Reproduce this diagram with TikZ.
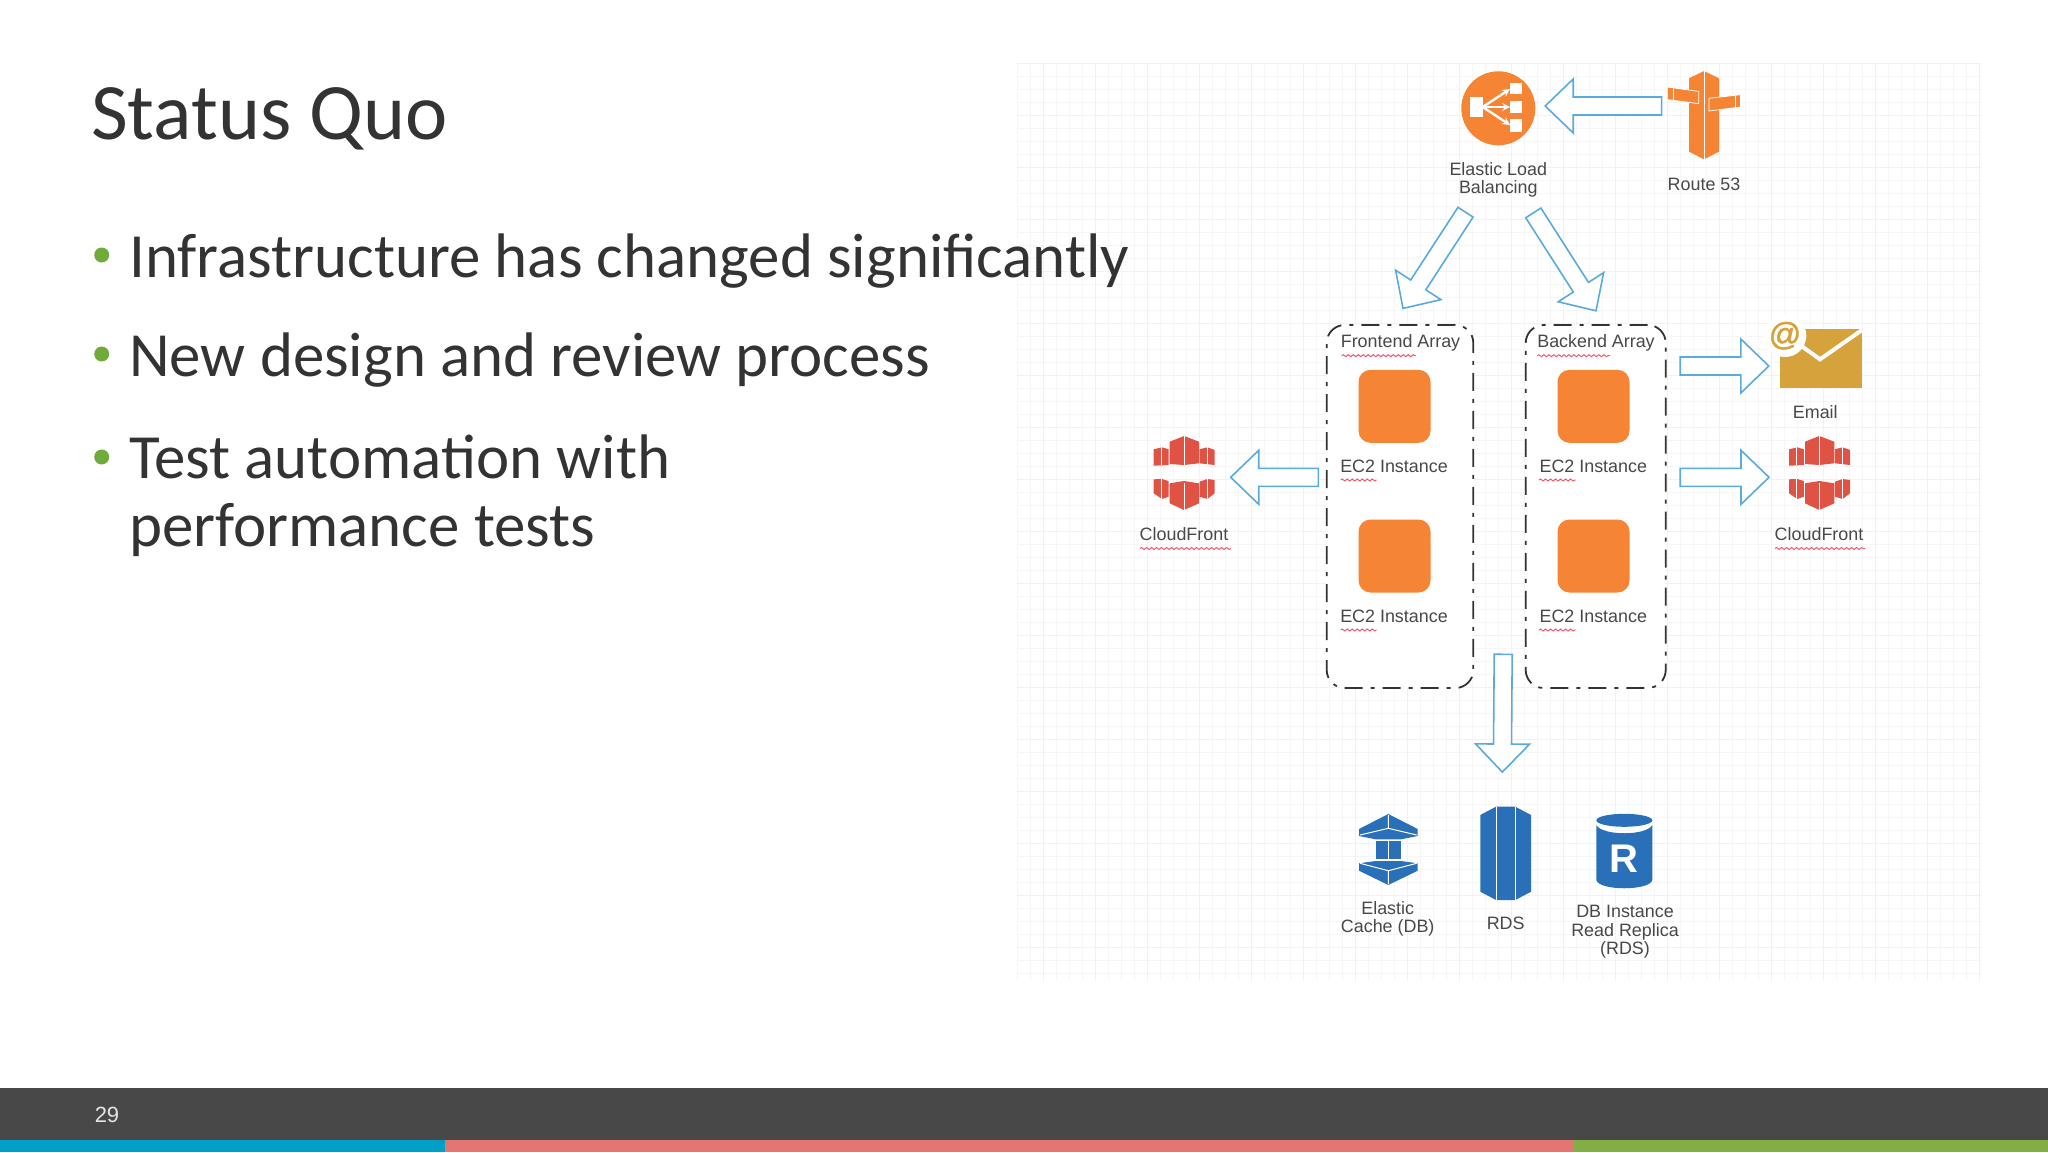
\documentclass[tikz,border=0pt]{standalone}
\usepackage{fontspec}
\setmainfont{Carlito}
\newfontfamily\labelfont{Liberation Sans}
\newfontfamily\atfont[FakeBold=1.5]{Liberation Sans}
\usepackage{xcolor}
\usepackage{tikz}
\usetikzlibrary{arrows,shapes,calc,decorations.pathmorphing}
\definecolor{slidetext}{RGB}{51,51,51}
\definecolor{slidegreen}{RGB}{112,170,58}
\definecolor{footdark}{RGB}{72,72,72}
\definecolor{footblue}{RGB}{0,160,198}
\definecolor{footred}{RGB}{228,118,114}
\definecolor{footgreen}{RGB}{130,175,67}
\definecolor{gridminor}{RGB}{246,246,247}
\definecolor{gridmajor}{RGB}{241,241,242}
\definecolor{labelgray}{RGB}{72,72,72}
\definecolor{awsorange}{RGB}{245,133,52}
\definecolor{awsred}{RGB}{224,82,67}
\definecolor{awsblue}{RGB}{41,112,184}
\definecolor{awsgold}{RGB}{214,162,60}
\definecolor{arrowblue}{RGB}{90,170,220}
\definecolor{squigred}{RGB}{240,90,110}
\tikzstyle{titletext} = [anchor=base west, inner sep=0pt, text=slidetext, font=\fontsize{80}{86}\selectfont]
\tikzstyle{bodytext} = [anchor=north west, inner sep=0pt, align=left, text=slidetext, font=\fontsize{62.9}{68}\selectfont]
\tikzstyle{bulletdot} = [circle, fill=slidegreen, minimum size=15pt, inner sep=0pt]
\tikzstyle{iconlabel} = [inner sep=0pt, align=center, text=labelgray, font=\labelfont\fontsize{17.9}{18.5}\selectfont]
\tikzstyle{arraybox} = [rectangle, rounded corners=18pt, minimum height=363pt, fill=white, draw=slidetext, line width=1.8pt, dash pattern=on 18pt off 8pt on 4pt off 8pt]
\tikzstyle{ecbox} = [rectangle, rounded corners=12pt, minimum width=72pt, minimum height=73pt, fill=awsorange]
\tikzstyle{iconbox} = [rectangle, inner sep=0pt]
\tikzstyle{squiggle} = [draw=squigred, line width=1pt, decorate, decoration={snake, segment length=5pt, amplitude=1pt}]
\tikzstyle{seam} = [draw=white, line width=1pt]
\tikzstyle{bigarrow} = [draw=arrowblue, fill=white, line width=1.6pt, to path={
  ($(\tikztostart)!9pt!90:(\tikztotarget)$) --
  ($(\tikztotarget)!28pt!(\tikztostart)!9pt!90:(\tikztotarget)$) --
  ($(\tikztotarget)!28pt!(\tikztostart)!27pt!90:(\tikztotarget)$) --
  (\tikztotarget) --
  ($(\tikztotarget)!28pt!(\tikztostart)!27pt!-90:(\tikztotarget)$) --
  ($(\tikztotarget)!28pt!(\tikztostart)!9pt!-90:(\tikztotarget)$) --
  ($(\tikztostart)!9pt!-90:(\tikztotarget)$) -- cycle}]
\tikzset{cloudfront/.pic={
  \fill[awsred] (-14.3,-31.3) -- (0,-37) -- (15,-31.3) -- (15,-9.7) -- (0,-8) -- (-14.3,-9) -- cycle;
  \fill[awsred] (-30.3,-23.7) -- (-22,-25.7) -- (-15.5,-23.7) -- (-15.5,-8) -- (-30.3,-7.3) -- cycle;
  \fill[awsred] (15.5,-23.7) -- (23.3,-25.7) -- (30.7,-23) -- (30.7,-8) -- (15.5,-9.7) -- cycle;
  \fill[awsred] (-14.3,10.3) -- (0,8) -- (15,10.3) -- (15,30.3) -- (0,37) -- (-14.3,30.3) -- cycle;
  \fill[awsred] (-30.3,6.3) -- (-22,6) -- (-15.5,8) -- (-15.5,23.7) -- (-22,26) -- (-30.3,20.3) -- cycle;
  \fill[awsred] (15.5,8.7) -- (23.3,6) -- (30.7,7) -- (30.7,20.3) -- (23.3,26) -- (15.5,23.7) -- cycle;
  \draw[seam] (0,-37) -- (0,-8) (0,10) -- (0,37);
  \draw[seam] (-23,-25.7) -- (-23,-8) (23,-25.7) -- (23,-8) (-23,6) -- (-23,26) (23,6) -- (23,26);
}}

\begin{document}
\begin{tikzpicture}[x=1pt, y=-1pt]
\useasboundingbox (0,0) rectangle (2048,1152);

% Diagram grid
\begin{scope}[shift={(3,11)}]
\draw[gridminor, line width=1pt] (1014,52) grid[step=13pt] (1978,970);
\draw[gridmajor, line width=1pt] (1014,52) grid[step=52pt] (1978,970);
\end{scope}

% Footer
\fill[footdark] (0,1088) rectangle (2048,1140);
\fill[footblue] (0,1140) rectangle (444.5,1152);
\fill[footred] (444.5,1140) rectangle (1574,1152);
\fill[footgreen] (1574,1140) rectangle (2048,1152);
\node[inner sep=0pt, text=white!90!black, font=\labelfont\fontsize{22}{24}\selectfont] (pagenum) at (107,1115) {29};

% Slide text
\node[titletext] (title) at (91,139) {Status Quo};
\node[bulletdot] (bullet1) at (101.7,255) {};
\node[bulletdot] (bullet2) at (101.7,354) {};
\node[bulletdot] (bullet3) at (101.7,457) {};
\node[bodytext] (line1) at (129,234) {Infrastructure has changed significantly};
\node[bodytext] (line2) at (129,333) {New design and review process};
\node[bodytext] (line3) at (129,435) {Test automation with\\performance tests};

% Array boxes
\node[arraybox, minimum width=146.6pt] (frontend) at (1400,506.5) {};
\node[arraybox, minimum width=140pt] (backend) at (1595.7,506.5) {};
\node[iconlabel] (frontlabel) at (1400.5,343) {Frontend Array};
\node[iconlabel] (backlabel) at (1596,343) {Backend Array};

% EC2 instances
\node[ecbox] (front1) at (1394.5,406.3) {};
\node[ecbox] (front2) at (1394.5,556) {};
\node[ecbox] (back1) at (1593.5,406.3) {};
\node[ecbox] (back2) at (1593.5,556) {};
\node[iconlabel] (front1label) at (1394,466.3) {EC2 Instance};
\node[iconlabel] (front2label) at (1394,616.3) {EC2 Instance};
\node[iconlabel] (back1label) at (1593.3,466.3) {EC2 Instance};
\node[iconlabel] (back2label) at (1593.3,616.3) {EC2 Instance};

% Spell check marks
\draw[squiggle] (1341.7,355.7) -- (1416,355.7);
\draw[squiggle] (1537.3,355.7) -- (1610,355.7);
\draw[squiggle] (1340.7,480) -- (1376.7,480);
\draw[squiggle] (1539,480) -- (1575.7,480);
\draw[squiggle] (1340.7,630) -- (1376.7,630);
\draw[squiggle] (1539,630) -- (1575.7,630);
\draw[squiggle] (1140,548.5) -- (1230.7,548.5);
\draw[squiggle] (1775,548.5) -- (1865,548.5);

% Load balancer
\node[circle, fill=awsorange, minimum size=74pt, inner sep=0pt] (elb) at (1498.3,108.3) {};
\fill[white] (1470,97.3) rectangle (1482.7,116.7);
\fill[white] (1510,82.7) rectangle (1521.7,94);
\fill[white] (1510,100.7) rectangle (1521.7,112.7);
\fill[white] (1510,119.3) rectangle (1521.7,131.7);
\draw[white, line width=2.4pt, ->, >=stealth] (1482.7,107) -- (1510,89);
\draw[white, line width=2.4pt, ->, >=stealth] (1482.7,107) -- (1510,107);
\draw[white, line width=2.4pt, ->, >=stealth] (1482.7,107) -- (1510,125);
\node[iconlabel] (elblabel) at (1498.3,180) {Elastic Load\\Balancing};

% Route 53
\node[iconbox, minimum width=72.3pt, minimum height=88.3pt] (route) at (1704,115.2) {};
\fill[awsorange] (1689,78.3) -- (1704,71) -- (1719,78.3) -- (1719,151.7) -- (1704,159.3) -- (1689,151.7) -- cycle;
\draw[seam] (1704,71) -- (1704,159.3);
\filldraw[awsorange, draw=white, line width=0.8pt] (1667.3,87) -- (1698.7,91.4) -- (1698.7,103.6) -- (1667.3,99.6) -- cycle;
\filldraw[awsorange, draw=white, line width=0.8pt] (1708.9,98.3) -- (1740.4,94.7) -- (1740.4,107) -- (1708.9,111) -- cycle;
\draw[seam] (1673,88) -- (1673,100) (1735,95.5) -- (1735,107.5);
\node[iconlabel] (routelabel) at (1704,184) {Route 53};

% Email
\node[iconbox, fill=awsgold, minimum width=81.7pt, minimum height=59.3pt] (email) at (1820.85,358.65) {};
\draw[white, line width=4pt] (1798,343.5) -- (1820,359.3) -- (1862,330);
\node[circle, fill=white, inner sep=0pt, minimum size=35pt, text=awsgold, font=\atfont\fontsize{32}{32}\selectfont] (emailat) at (1785,335.7) {@};
\node[iconlabel] (emaillabel) at (1815.3,411.7) {Email};

% CloudFront
\node[iconbox, minimum width=61pt, minimum height=74pt] (cfleft) at (1184,473) {};
\pic at (cfleft) {cloudfront};
\node[iconlabel] (cfleftlabel) at (1184,534.3) {CloudFront};
\node[iconbox, minimum width=61pt, minimum height=74pt] (cfright) at (1819.3,473) {};
\pic at (cfright) {cloudfront};
\node[iconlabel] (cfrightlabel) at (1819,534) {CloudFront};

% Elastic Cache
\node[iconbox, minimum width=58.7pt, minimum height=71pt] (cache) at (1388.3,849.5) {};
\fill[awsblue] (1359,829) -- (1388.3,814) -- (1417.7,829) -- (1417.7,836) -- (1401,839.3) -- (1375.7,839.3) -- (1359,836) -- cycle;
\fill[awsblue] (1375.7,841) rectangle (1401,859);
\fill[awsblue] (1359,863.3) -- (1375.7,861) -- (1401,861) -- (1417.7,863.3) -- (1417.7,870.7) -- (1388.3,885) -- (1359,870.7) -- cycle;
\draw[seam] (1388.3,815) -- (1388.3,828.3) (1360,835) -- (1388.3,828.3) -- (1416.7,835);
\draw[seam] (1388.3,841) -- (1388.3,859);
\draw[seam] (1360,863.3) -- (1388.3,870.7) -- (1416.7,863.3) (1388.3,870.7) -- (1388.3,884);
\node[iconlabel] (cachelabel) at (1387.7,918.7) {Elastic\\Cache (DB)};

% RDS
\node[iconbox, minimum width=50.7pt, minimum height=93.3pt] (rds) at (1505.7,853.3) {};
\fill[awsblue] (1480.3,815) -- (1496,806.7) -- (1515.3,806.7) -- (1531,815) -- (1531,891.7) -- (1515.3,900) -- (1496,900) -- (1480.3,891.7) -- cycle;
\draw[seam] (1496,806.7) -- (1496,900) (1515.3,806.7) -- (1515.3,900);
\node[iconlabel] (rdslabel) at (1505.7,923.5) {RDS};

% Read replica
\node[iconbox, minimum width=56pt, minimum height=74pt] (replica) at (1624.3,851) {};
\fill[awsblue] (1624.3,820.3) ellipse [x radius=28pt, y radius=6.5pt];
\fill[awsblue] (1596.3,825) .. controls (1602,836) and (1646.6,836) .. (1652.3,825) -- (1652.3,880) .. controls (1650,891) and (1598.6,891) .. (1596.3,880) -- cycle;
\node[inner sep=0pt, text=white, font=\labelfont\bfseries\fontsize{40}{40}\selectfont] (replicar) at (1624.3,858.5) {R};
\node[iconlabel] (replicalabel) at (1625,932) {DB Instance\\Read Replica\\(RDS)};

% Connections
\draw[bigarrow] ([shift={(-6,-9.2)}]route.west) to ([shift={(9.7,-2.3)}]elb.east);
\draw[bigarrow] ([shift={(-32.8,66.7)}]elb.south) to ([shift={(3,-15.7)}]frontend.north);
\draw[bigarrow] ([shift={(35,67.4)}]elb.south) to ([shift={(0.3,-13.3)}]backend.north);
\draw[bigarrow] ([shift={(-7.4,-29.2)}]frontend.west) to ([shift={(16,4.3)}]cfleft.east);
\draw[bigarrow] ([shift={(13.6,-140.5)}]backend.east) to ([shift={(-11,7.35)}]email.west);
\draw[bigarrow] ([shift={(13.6,-29.2)}]backend.east) to ([shift={(-19.6,4.3)}]cfright.west);
\draw[bigarrow] ([shift={(29,147.8)}]frontend.east) to ([shift={(-3.4,-34.4)}]rds.north);
\end{tikzpicture}
\end{document}
